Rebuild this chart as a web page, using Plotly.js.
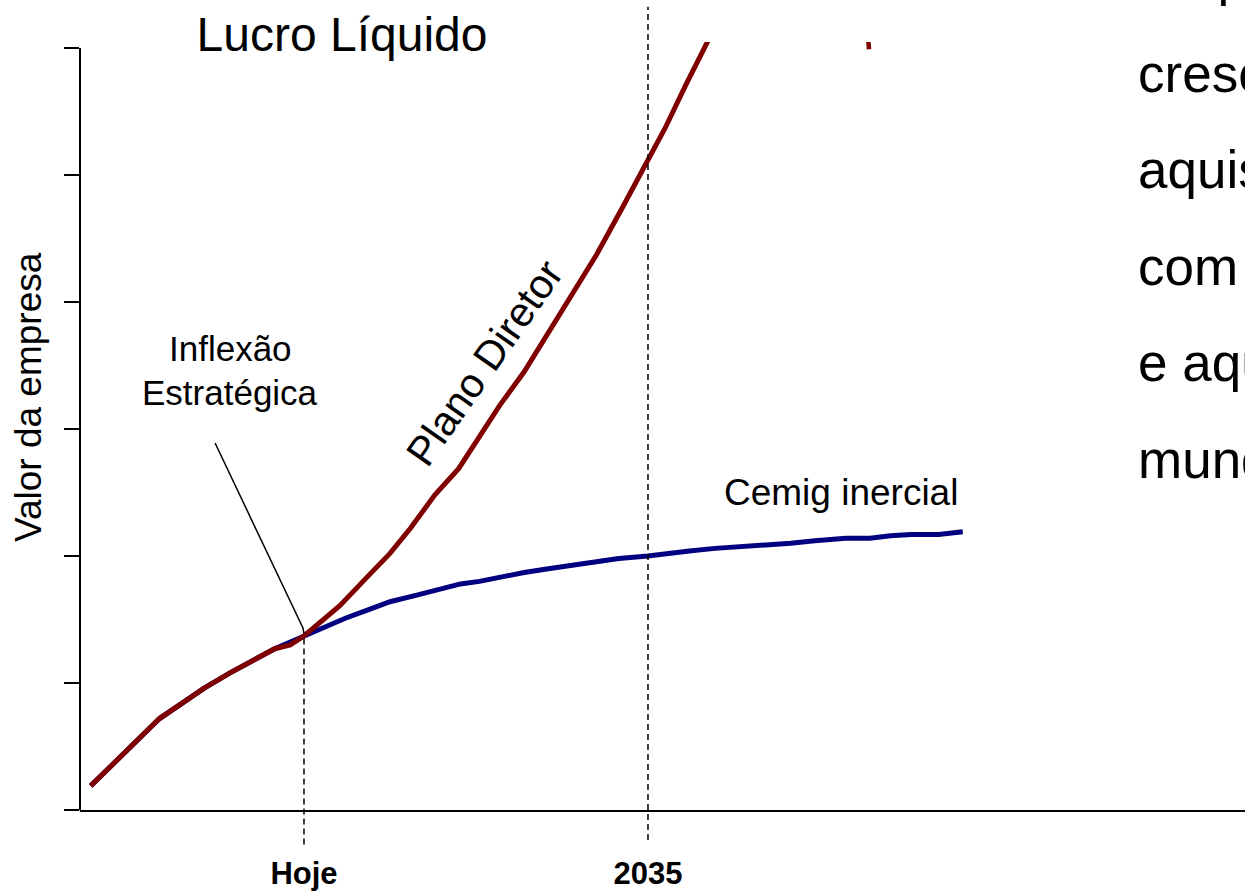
<!DOCTYPE html>
<html>
<head>
<meta charset="utf-8">
<script src="https://cdn.plot.ly/plotly-3.0.1.min.js"></script>
<style>html,body{margin:0;padding:0;background:#fff;}#chart{width:1245px;height:892px;}</style>
</head>
<body>
<div id="chart"></div>
<script>
// ---- data (x in years, y in arbitrary "valor" units) ----
const planoX = [2002.6, 2005.2, 2006.6, 2009.2, 2010.7, 2013.3, 2014.2, 2015.0, 2015.8, 2017.1, 2018.5, 2020.0, 2021.2, 2022.6, 2024.0, 2025.2, 2026.4, 2027.8, 2029.2, 2030.6, 2032.0, 2033.5, 2035.0, 2036.0, 2037.2, 2038.5, 2039.0];
const planoY = [0.19, 0.54, 0.72, 0.96, 1.08, 1.27, 1.30, 1.37, 1.46, 1.61, 1.81, 2.02, 2.22, 2.48, 2.69, 2.94, 3.19, 3.45, 3.76, 4.06, 4.37, 4.74, 5.12, 5.37, 5.71, 6.06, 6.25];
const inercialX = [2002.6, 2005.2, 2006.6, 2009.2, 2010.7, 2013.3, 2015.0, 2015.9, 2017.4, 2018.8, 2020.0, 2021.5, 2022.7, 2024.1, 2025.2, 2026.6, 2027.8, 2029.2, 2030.6, 2031.9, 2033.3, 2035.0, 2036.0, 2037.4, 2038.9, 2040.3, 2041.8, 2043.3, 2044.7, 2046.5, 2047.9, 2049.1, 2050.3, 2051.9, 2053.3];
const inercialY = [0.19, 0.54, 0.72, 0.96, 1.08, 1.27, 1.37, 1.43, 1.51, 1.58, 1.64, 1.69, 1.73, 1.78, 1.80, 1.84, 1.87, 1.90, 1.93, 1.95, 1.98, 2.00, 2.02, 2.04, 2.06, 2.07, 2.09, 2.10, 2.12, 2.14, 2.14, 2.16, 2.17, 2.17, 2.19];
const fragmentX = [2047.72, 2047.85];
const fragmentY = [6.2, 5.99];
const tickYears = [2015, 2035];
const tickLabels = ['<b>Hoje</b>', '<b>2035</b>'];
const yTicks = [0, 1, 2, 3, 4, 5, 6];
const hojeYear = 2015, hojeValue = 1.37, markYear = 2035;
const sideText = ['Ampliar', 'crescimento', 'aquisições', 'com parcerias', 'e aquisições', 'mundo'];

const FONT = 'Liberation Sans, Arial, sans-serif';
const RED = '#800000', BLUE = '#000080';
const yMax = 6.047;

const traces = [
  {x: inercialX, y: inercialY, mode: 'lines', line: {color: BLUE, width: 5}, hoverinfo: 'skip'},
  {x: planoX, y: planoY, mode: 'lines', line: {color: RED, width: 5}, hoverinfo: 'skip'},
  {x: fragmentX, y: fragmentY, mode: 'lines', line: {color: RED, width: 4.5}, hoverinfo: 'skip'}
];

const sideMid = [-24, 73, 169, 266, 362, 459];
const annotations = [
  {text: 'Valor da empresa', xref: 'paper', yref: 'paper', x: (28 - 80) / 1165, y: (810 - 397) / 768,
   xanchor: 'center', yanchor: 'middle', textangle: -90,
   showarrow: false, font: {family: FONT, size: 37, color: '#000'}},
  {text: 'Inflexão', xref: 'x', yref: 'y', x: 2010.7, y: 3.63, xanchor: 'center', yanchor: 'middle', showarrow: false,
   font: {family: FONT, size: 35, color: '#000'}},
  {text: 'Estratégica', xref: 'x', yref: 'y', x: 2010.7, y: 3.29, xanchor: 'center', yanchor: 'middle', showarrow: false,
   font: {family: FONT, size: 35, color: '#000'}},
  {text: 'Plano Diretor', xref: 'x', yref: 'y', x: 2025.5, y: 3.52, textangle: -55, showarrow: false,
   xanchor: 'center', yanchor: 'middle', font: {family: FONT, size: 41, color: '#000'}},
  {text: 'Cemig inercial', xref: 'x', yref: 'y', x: 2046.22, y: 2.50, xanchor: 'center', yanchor: 'middle', showarrow: false,
   font: {family: FONT, size: 37, color: '#000'}}
];
sideText.forEach((t, i) => {
  annotations.push({text: t, xref: 'paper', yref: 'paper', x: (1136 - 80) / 1165, xanchor: 'left',
    y: (810 - sideMid[i]) / 768, yanchor: 'middle', showarrow: false,
    font: {family: FONT, size: 53, color: '#000'}});
});

const dash = '6px,4px';
const shapes = [
  // y axis line (0 .. 6)
  {type: 'line', xref: 'paper', yref: 'y', x0: 0, x1: 0, y0: 0, y1: 6, line: {color: '#000', width: 2}},
  // Hoje dashed marker
  {type: 'line', xref: 'x', yref: 'paper', x0: hojeYear, x1: hojeYear, y0: -0.045, y1: hojeValue / yMax,
   line: {color: '#000', width: 1.5, dash: dash}},
  // 2035 dashed marker
  {type: 'line', xref: 'x', yref: 'paper', x0: markYear, x1: markYear, y0: -0.039, y1: 1.046,
   line: {color: '#000', width: 1.5, dash: dash}},
  // pointer for "Inflexão Estratégica"
  {type: 'path', xref: 'x', yref: 'y', path: 'M 2009.83,2.89 L 2014.94,1.433 L 2015,1.39',
   line: {color: '#000', width: 1.5}}
];

const layout = {
  width: 1245, height: 892,
  margin: {l: 80, r: 0, t: 42, b: 82},
  paper_bgcolor: '#fff', plot_bgcolor: '#fff',
  showlegend: false,
  title: {text: 'Lucro Líquido', font: {family: FONT, size: 48, color: '#000'},
          xref: 'paper', x: (342 - 80) / 1165, xanchor: 'center',
          yref: 'container', y: 1 - 34 / 892, yanchor: 'middle'},
  xaxis: {range: [2001.977, 2069.71], showgrid: false, zeroline: false, showline: true,
          linecolor: '#000', linewidth: 2, ticks: '', tickvals: tickYears, ticktext: tickLabels,
          ticklabelstandoff: 35, tickfont: {family: FONT, size: 31, color: '#000'}},
  yaxis: {range: [0, yMax], showgrid: false, zeroline: false, showline: false,
          ticks: 'outside', ticklen: 15, tickwidth: 2, tickcolor: '#000',
          tickvals: yTicks, showticklabels: false},
  annotations: annotations,
  shapes: shapes
};

Plotly.newPlot('chart', traces, layout, {displayModeBar: false, staticPlot: true});
</script>
</body>
</html>
